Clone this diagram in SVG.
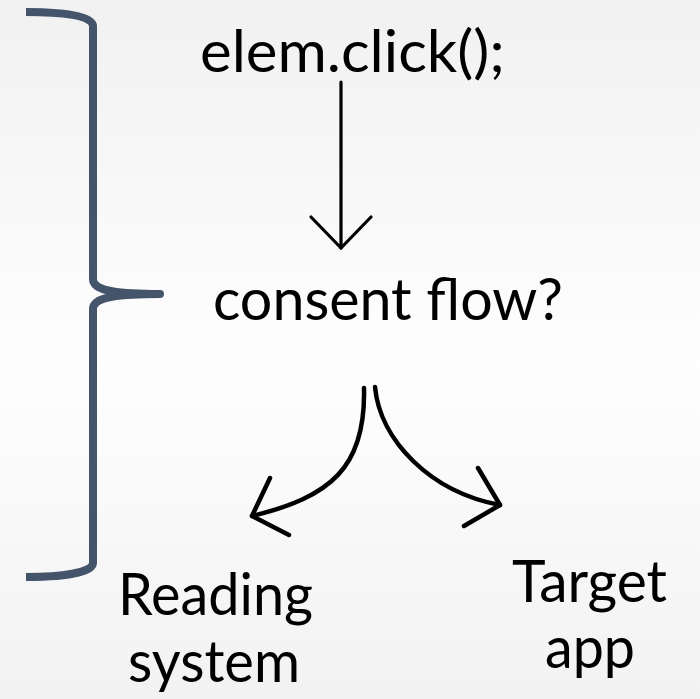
<svg xmlns="http://www.w3.org/2000/svg" width="700" height="699" viewBox="0 0 700 699">
  <defs>
    <linearGradient id="bg" x1="0" y1="0" x2="0" y2="1">
      <stop offset="0" stop-color="#f1f1f1"/>
      <stop offset="0.52" stop-color="#fefefe"/>
      <stop offset="1" stop-color="#f2f2f2"/>
    </linearGradient>
    <style>
      .label { font-family: "Lato", "Open Sans", "Liberation Sans", sans-serif; font-size: 58px; fill: #000; }
      .brace { fill: none; stroke: #44546a; stroke-width: 8; stroke-linejoin: round; }
      .flow { fill: none; stroke: #000; stroke-linecap: round; stroke-linejoin: round; }
    </style>
  </defs>

  <rect width="700" height="699" fill="url(#bg)"/>

  <!-- grouping brace on the left -->
  <g id="brace">
    <path class="brace" d="M26,12 C60,12 93,15 93,26 L93,279 C93,290 112,294 160,294 C112,294 93,298 93,309 L93,563 C93,573 60,577 26,577"/>
  </g>

  <!-- nodes -->
  <g id="node-click">
    <text class="label" x="200" y="72" textLength="305" lengthAdjust="spacingAndGlyphs">elem.click();</text>
  </g>
  <g id="node-consent">
    <text class="label" x="213" y="320" textLength="350" lengthAdjust="spacingAndGlyphs">consent flow?</text>
  </g>
  <g id="node-reading">
    <text class="label" x="118" y="615" textLength="195" lengthAdjust="spacingAndGlyphs">Reading</text>
    <text class="label" x="128" y="682" textLength="172" lengthAdjust="spacingAndGlyphs">system</text>
  </g>
  <g id="node-target">
    <text class="label" x="512" y="602" textLength="155" lengthAdjust="spacingAndGlyphs">Target</text>
    <text class="label" x="545" y="668" textLength="90" lengthAdjust="spacingAndGlyphs">app</text>
  </g>

  <!-- connectors -->
  <g id="connectors">
    <path class="flow" stroke-width="3.2" d="M341,82 L341,248"/>
    <path class="flow" stroke-width="3.2" d="M311,217 L341,248 L371,217"/>
    <path class="flow" stroke-width="4.5" d="M364,388 C366,468 330,497 252,516"/>
    <path class="flow" stroke-width="4.5" d="M270,478 L252,516 L289,535"/>
    <path class="flow" stroke-width="4.5" d="M375,387 C380,440 430,492 500,505"/>
    <path class="flow" stroke-width="4.5" d="M478,468 L500,505 L464,526"/>
  </g>
</svg>
